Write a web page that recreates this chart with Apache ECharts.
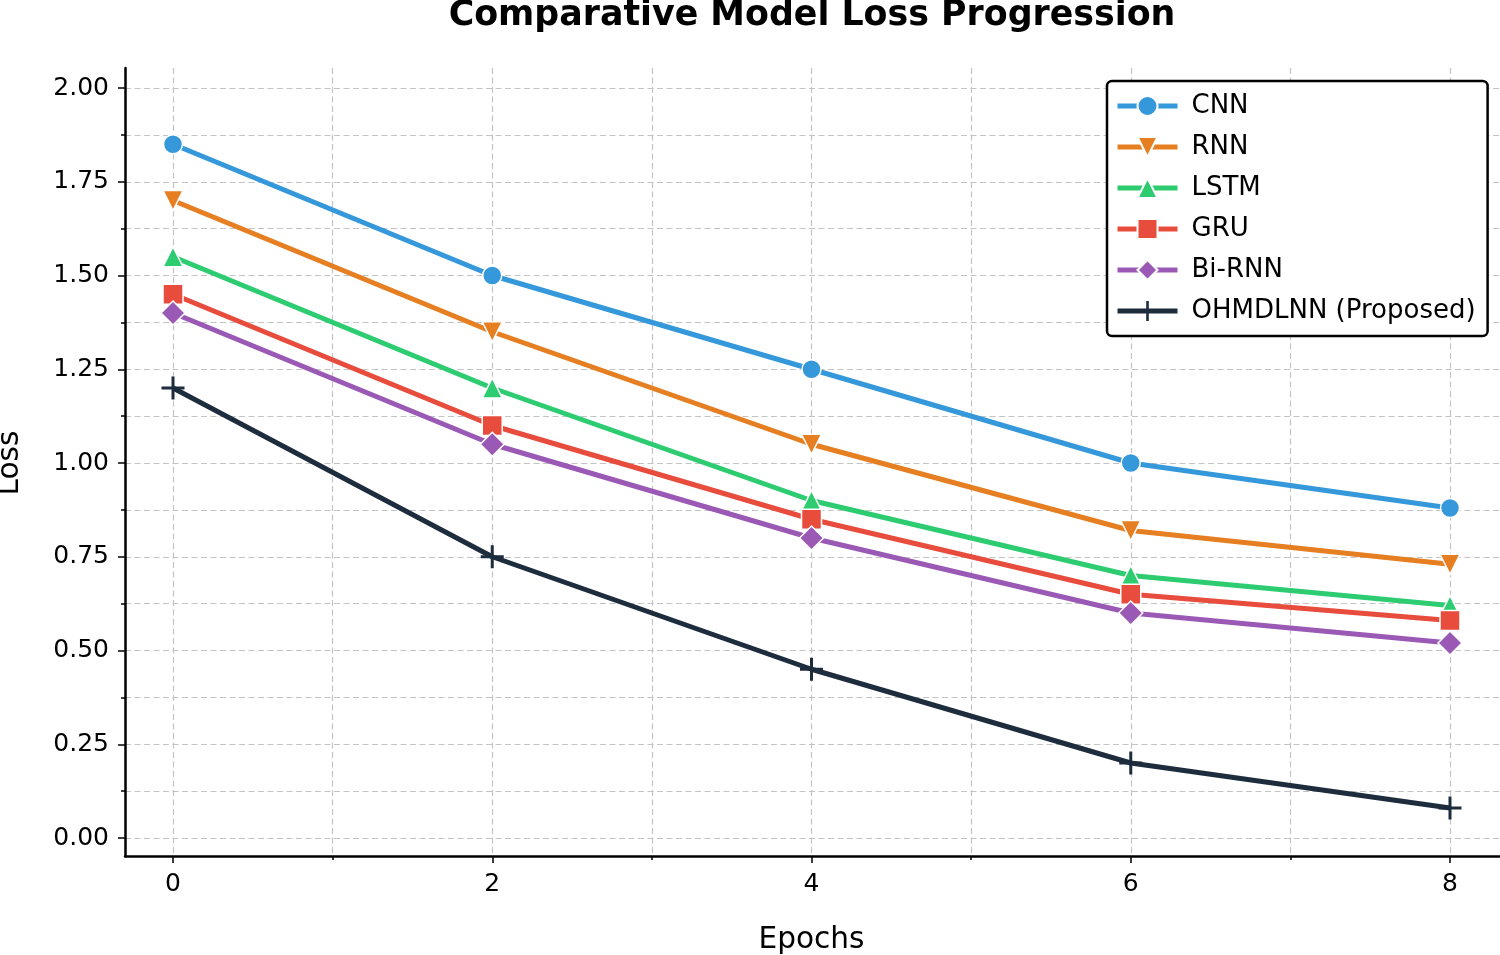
<!DOCTYPE html>
<html>
<head>
<meta charset="utf-8">
<script src="https://cdn.jsdelivr.net/npm/echarts@6/dist/echarts.min.js"></script>
<style>
html,body{margin:0;padding:0;background:#fff;}
#chart{width:1500px;height:955px;}
</style>
</head>
<body>
<div id="chart"></div>
<script>
// ---- data ----
const epochs = [0, 2, 4, 6, 8];
const seriesNames = ['CNN', 'RNN', 'LSTM', 'GRU', 'Bi-RNN', 'OHMDLNN (Proposed)'];
const cnnLoss = [1.85, 1.50, 1.25, 1.00, 0.88];
const rnnLoss = [1.70, 1.35, 1.05, 0.82, 0.73];
const lstmLoss = [1.55, 1.20, 0.90, 0.70, 0.62];
const gruLoss = [1.45, 1.10, 0.85, 0.65, 0.58];
const birnnLoss = [1.40, 1.05, 0.80, 0.60, 0.52];
const ohmdlnnLoss = [1.20, 0.75, 0.45, 0.20, 0.08];
const xTicks = [0, 2, 4, 6, 8];
const yTicks = [0, 0.25, 0.5, 0.75, 1.0, 1.25, 1.5, 1.75, 2.0];

// ---- layout (pixels) ----
const PX_X0 = 173, PX_X8 = 1450;   // x = 0 and x = 8
const PX_Y0 = 838, PX_Y2 = 88;     // y = 0 and y = 2
const kx = (PX_X8 - PX_X0) / 8;
const ky = (PX_Y0 - PX_Y2) / 2;
const AX_LEFT = 125, AX_RIGHT = 1514, AX_TOP = 68, AX_BOTTOM = 856;
const W = 1500, H = 955;
const xMinC = (AX_LEFT - PX_X0) / kx;
const xMaxC = (AX_RIGHT - PX_X0) / kx;
const yMaxC = (PX_Y0 - AX_TOP) / ky;
const yMinC = (PX_Y0 - AX_BOTTOM) / ky;

const FONT = 'DejaVu Sans';
const gridLine = { color: '#c4c4c4', width: 1.2, type: [6, 3.5] };
const tickStyle = { color: '#000', width: 1.5 };

const colors = ['#3498db', '#e67e22', '#2ecc71', '#e74c3c', '#9b59b6', '#1e2d3d'];
const values = [cnnLoss, rnnLoss, lstmLoss, gruLoss, birnnLoss, ohmdlnnLoss];
const plusPath = 'path://M4.35,0h1.3v10h-1.3zM0,4.35h10v1.3h-10z';
const symbols = ['circle', 'triangle', 'triangle', 'rect', 'diamond', plusPath];
const rotates = [0, 180, 0, 0, 0, 0];
const sizes = [19, 20, 20, 20, [24, 24], 23];

const series = seriesNames.map((name, i) => ({
  name: name,
  type: 'line',
  xAxisIndex: 2,
  yAxisIndex: 2,
  data: epochs.map((e, j) => [e, values[i][j]]),
  symbol: symbols[i],
  symbolRotate: rotates[i],
  symbolSize: sizes[i],
  showAllSymbol: true,
  lineStyle: { color: colors[i], width: 5 },
  itemStyle: {
    color: colors[i],
    borderColor: i === 5 ? colors[i] : '#fff',
    borderWidth: i === 5 ? 0 : 1.5,
    opacity: 1
  },
  emphasis: { disabled: true },
  z: 2 + i
}));

const chart = echarts.init(document.getElementById('chart'), null, { renderer: 'canvas', width: W, height: H });
chart.setOption({
  animation: false,
  backgroundColor: '#fff',
  textStyle: { fontFamily: FONT },
  title: {
    text: 'Comparative Model Loss Progression',
    left: 807,
    textAlign: 'center',
    top: -7,
    textStyle: { fontFamily: FONT, fontSize: 34.8, fontWeight: 'bold', color: '#000' }
  },
  legend: {
    data: seriesNames,
    orient: 'vertical',
    left: 1107,
    top: 81,
    itemWidth: 60,
    itemHeight: 25,
    itemGap: 15,
    padding: [12, 12, 12, 8],
    borderColor: '#000',
    borderWidth: 2.5,
    borderRadius: 5,
    backgroundColor: '#fff',
    selectedMode: false,
    lineStyle: { width: 5 },
    textStyle: { fontFamily: FONT, fontSize: 26, color: '#000', padding: [0, 0, 0, 9] },
    z: 20
  },
  grid: [
    { left: AX_LEFT, right: W - AX_RIGHT, top: PX_Y2, bottom: H - PX_Y0, outerBoundsMode: 'none', containLabel: false },
    { left: PX_X0, right: W - PX_X8, top: AX_TOP, bottom: H - AX_BOTTOM, outerBoundsMode: 'none', containLabel: false },
    { left: AX_LEFT, right: W - AX_RIGHT, top: AX_TOP, bottom: H - AX_BOTTOM, outerBoundsMode: 'none', containLabel: false }
  ],
  xAxis: [
    { gridIndex: 0, type: 'value', show: false, min: 0, max: 1 },
    {
      gridIndex: 1, type: 'value', min: xTicks[0], max: xTicks[xTicks.length - 1], interval: xTicks[1] - xTicks[0],
      position: 'bottom',
      axisLine: { show: false, onZero: false },
      axisTick: { show: true, length: 7, lineStyle: tickStyle },
      minorTick: { show: true, splitNumber: 2, length: 4, lineStyle: tickStyle },
      splitLine: { show: true, lineStyle: gridLine },
      minorSplitLine: { show: true, lineStyle: gridLine },
      axisLabel: { fontFamily: FONT, fontSize: 25, color: '#000', margin: 16 },
      name: 'Epochs', nameLocation: 'middle', nameGap: 69,
      nameTextStyle: { fontFamily: FONT, fontSize: 29.6, color: '#000' }
    },
    {
      gridIndex: 2, type: 'value', min: xMinC, max: xMaxC, position: 'bottom',
      axisLine: { show: true, onZero: false, lineStyle: { color: '#000', width: 2.5 } },
      axisTick: { show: false }, axisLabel: { show: false }, splitLine: { show: false }
    }
  ],
  yAxis: [
    {
      gridIndex: 0, type: 'value', min: yTicks[0], max: yTicks[yTicks.length - 1], interval: yTicks[1] - yTicks[0],
      position: 'left',
      axisLine: { show: false, onZero: false },
      axisTick: { show: true, length: 7, lineStyle: tickStyle },
      minorTick: { show: true, splitNumber: 2, length: 4, lineStyle: tickStyle },
      splitLine: { show: true, lineStyle: gridLine },
      minorSplitLine: { show: true, lineStyle: gridLine },
      axisLabel: { fontFamily: FONT, fontSize: 25, color: '#000', margin: 16, formatter: v => v.toFixed(2) },
      name: 'Loss', nameLocation: 'middle', nameGap: 100,
      nameTextStyle: { fontFamily: FONT, fontSize: 29.6, color: '#000' }
    },
    { gridIndex: 1, type: 'value', show: false, min: 0, max: 1 },
    {
      gridIndex: 2, type: 'value', min: yMinC, max: yMaxC, position: 'left',
      axisLine: { show: true, onZero: false, lineStyle: { color: '#000', width: 2.5 } },
      axisTick: { show: false }, axisLabel: { show: false }, splitLine: { show: false }
    }
  ],
  series: series
});
</script>
</body>
</html>
